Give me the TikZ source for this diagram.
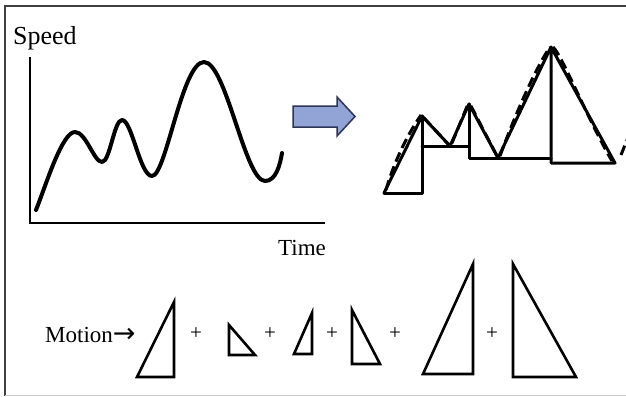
\documentclass[tikz,border=0pt]{standalone}
\usepackage{fontspec}
\setmainfont{Liberation Serif}
\newfontfamily\arrowfont{DejaVu Sans}
\usepackage{xcolor}

\definecolor{arrowfill}{RGB}{146,164,214}
\definecolor{arrowline}{RGB}{45,52,85}

\begin{document}
\begin{tikzpicture}[
    x=1pt, y=-1pt,
    axis/.style={draw=black, line width=2pt},
    speedcurve/.style={draw=black, line width=4pt, line cap=round, line join=round},
    piece/.style={draw=black, line width=3pt, line join=round, line cap=round},
    trace/.style={draw=black, line width=3pt, dash pattern=on 10pt off 5pt},
    tri/.style={draw=black, line width=2.6pt, line join=miter},
    axistext/.style={font=\fontsize{23}{26}\selectfont, inner sep=0pt},
    plus/.style={font=\fontsize{21}{22}\selectfont, inner sep=0pt},
    bluearrow/.style={fill=arrowfill, draw=arrowline, line width=1.5pt, line join=miter}
]
    \useasboundingbox (0,0) rectangle (626,396);

    % frame
    \draw[draw=black!75, line width=1.5pt] (5,396) -- (5,6) -- (626,6);
    \draw[draw=black!20, line width=1pt] (5,395.5) -- (626,395.5);

    % speed over time
    \draw[axis] (30,57) -- (30,223) -- (325,223);
    \node[axistext, font=\fontsize{26}{28}\selectfont, anchor=base west] (speed) at (13,45) {Speed};
    \node[axistext, anchor=base west] (time) at (278,255) {Time};
    \draw[speedcurve] (36,210) .. controls (46,185) and (62,132) .. (75,132)
        .. controls (86,132) and (94,162) .. (102,162)
        .. controls (110,162) and (114,120) .. (122,120)
        .. controls (132,120) and (140,176) .. (152,176)
        .. controls (166,176) and (182,62) .. (204,62)
        .. controls (226,62) and (245,181) .. (265,181)
        .. controls (276,181) and (280,165) .. (282,153);

    % block arrow
    \draw[bluearrow] (293,106) -- (337,106) -- (337,97) -- (355,116.5)
        -- (337,136) -- (337,127) -- (293,127) -- cycle;

    % triangles under the curve
    \coordinate (p1) at (384,193);
    \coordinate (a1) at (422,116);
    \coordinate (v1) at (450,146);
    \coordinate (a2) at (469,104);
    \coordinate (v2) at (498,158);
    \coordinate (a3) at (551,47);
    \coordinate (e3) at (615,163);
    \draw[piece] (p1) -- (a1) -- (v1) -- (a2) -- (v2) -- (a3) -- (e3) -- (a3 |- e3) -- (a3);
    \draw[piece] (p1) -- (a1 |- p1) -- (a1);
    \draw[piece] (a1 |- v1) -- (a2 |- v1);
    \draw[piece] (a2) -- (a2 |- v2) -- (a3 |- v2);

    % dashed trace of the curve
    \draw[trace] (386,190) .. controls (392,168) and (405,138) .. (421,115);
    \draw[trace] (424,118) -- (449,145);
    \draw[trace] (452,143) -- (468,104);
    \draw[trace] (471,106) -- (497,156);
    \draw[trace] (500,156) .. controls (510,128) and (533,72) .. (550,47);
    \draw[trace] (553,47) .. controls (562,55) and (588,120) .. (612,161);
    \draw[trace] (621,155) -- (627,140);

    % motion as a sum
    \node[axistext, anchor=base west] (motion) at (45,342) {Motion{\arrowfont\fontsize{27}{28}\selectfont →}};
    \draw[tri] (137,377) -- (174,302) -- (174,377) -- cycle;
    \draw[tri] (229,325) -- (255,355) -- (229,355) -- cycle;
    \draw[tri] (294,354) -- (312,313) -- (312,354) -- cycle;
    \draw[tri] (352,310) -- (380,364) -- (352,364) -- cycle;
    \draw[tri] (423,374) -- (473,264) -- (473,374) -- cycle;
    \draw[tri] (513,264) -- (576,377) -- (513,377) -- cycle;
    \foreach \x [count=\i] in {196,270,332,395,492}
        \node[plus] (plus\i) at (\x,334) {+};

\end{tikzpicture}
\end{document}
